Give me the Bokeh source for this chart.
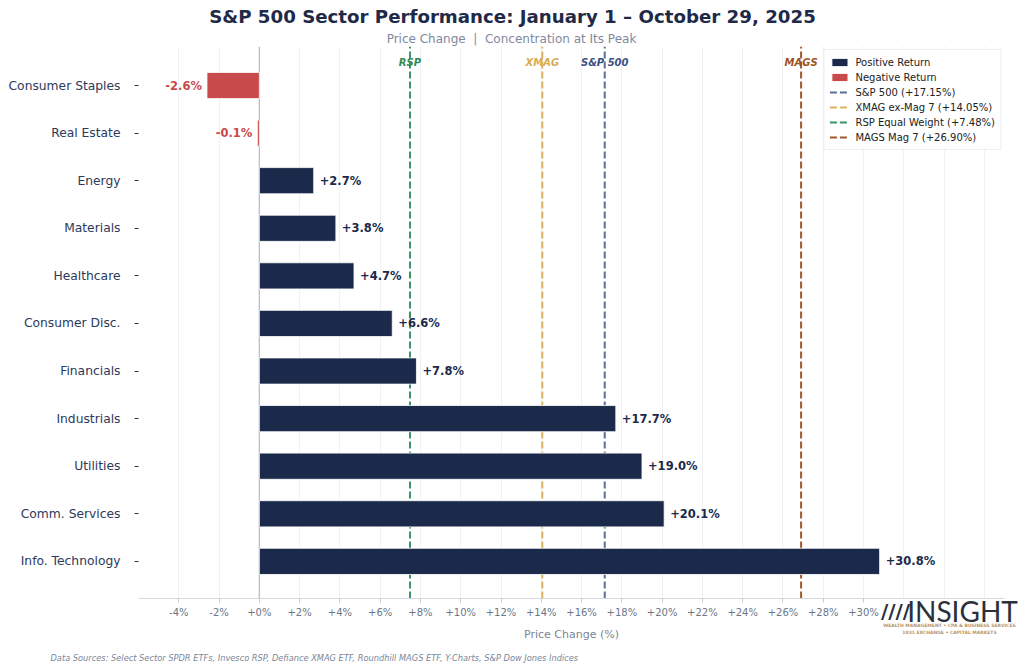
from bokeh.plotting import figure
from bokeh.models import ColumnDataSource, Label, Span, FixedTicker, Range1d
from bokeh.core.properties import value
from bokeh.embed import file_html
from bokeh.resources import INLINE

# ---------------- data ----------------
sectors = ["Consumer Staples", "Real Estate", "Energy", "Materials", "Healthcare",
           "Consumer Disc.", "Financials", "Industrials", "Utilities",
           "Comm. Services", "Info. Technology"]
returns = [-2.6, -0.1, 2.7, 3.8, 4.7, 6.6, 7.8, 17.7, 19.0, 20.1, 30.8]

bench_short = ["S&P 500", "XMAG", "RSP", "MAGS"]
bench_legend = ["S&P 500 (+17.15%)", "XMAG ex-Mag 7 (+14.05%)",
                "RSP Equal Weight (+7.48%)", "MAGS Mag 7 (+26.90%)"]
bench_values = [17.15, 14.05, 7.48, 26.90]

x_ticks = [-4, -2, 0, 2, 4, 6, 8, 10, 12, 14, 16, 18, 20, 22, 24, 26, 28, 30]
x_grid = [-4, -2, 0, 2, 4, 6, 8, 10, 12, 14, 16, 18, 20, 22, 24, 26, 28, 30, 32, 34, 36]

# ---------------- styles ----------------
NAVY = "#1b2a4a"
RED = "#c94a4a"
bench_line_colors = ["#5a6e98", "#ddb25e", "#3a9563", "#a4572c"]
bench_text_colors = ["#3c5182", "#d9ab52", "#2f8a58", "#9c5226"]
FONT = "DejaVu Sans"

XMIN, XMAX = -6.0, 37.0
YMIN, YMAX = -0.78, 10.82
FW, FH = 866, 552
FL, FT = 138, 46  # canvas coords of frame left/top


def X(px):
    return XMIN + (px - FL) * (XMAX - XMIN) / FW


def Y(py):
    return YMAX - (py - FT) * (YMAX - YMIN) / FH


n = len(sectors)
ypos = [n - 1 - i for i in range(n)]

pos = dict(y=[], x=[], lab=[])
neg = dict(y=[], x=[], lab=[])
for yy, v in zip(ypos, returns):
    d = pos if v >= 0 else neg
    d["y"].append(yy)
    d["x"].append(v)
    d["lab"].append(f"{v:+.1f}%")
src_pos = ColumnDataSource(pos)
src_neg = ColumnDataSource(neg)

p = figure(frame_width=FW, frame_height=FH,
           min_border_left=FL, min_border_right=18,
           min_border_top=FT, min_border_bottom=70,
           x_range=Range1d(XMIN, XMAX), y_range=Range1d(YMIN, YMAX),
           output_backend="svg", toolbar_location=None,
           background_fill_color="white", border_fill_color="white")
p.outline_line_color = None

# grid
p.ygrid.grid_line_color = None
p.xgrid.ticker = FixedTicker(ticks=x_grid)
p.xgrid.grid_line_color = "#ebedf0"
p.xgrid.grid_line_width = 0.8

# zero line
p.add_layout(Span(location=0, dimension="height", line_color="#b9bfc9",
                  line_width=1.3, level="underlay"))

# benchmark lines
for name, lab, v, c in zip(bench_short, bench_legend, bench_values, bench_line_colors):
    p.segment(x0=[v], y0=[YMIN], x1=[v], y1=[YMAX], line_color=c, line_width=2,
              line_dash="7 3", legend_label=lab)

# bars
p.hbar(y="y", right="x", left=0, height=0.55, source=src_pos,
       fill_color=NAVY, line_color="white", line_width=0.8,
       legend_label="Positive Return")
p.hbar(y="y", right="x", left=0, height=0.55, source=src_neg,
       fill_color=RED, line_color="white", line_width=0.8,
       legend_label="Negative Return")

# value labels
p.text(x="x", y="y", text="lab", source=src_pos, x_offset=6,
       text_align="left", text_baseline="middle", text_color=NAVY,
       text_font=value(FONT), text_font_style="bold", text_font_size="11.5px")
p.text(x="x", y="y", text="lab", source=src_neg, x_offset=-5,
       text_align="right", text_baseline="middle", text_color=RED,
       text_font=value(FONT), text_font_style="bold", text_font_size="11.5px")

# benchmark labels at top
bench_src = ColumnDataSource(dict(x=bench_values, y=[Y(62)] * len(bench_values),
                                  t=bench_short, c=bench_text_colors))
p.text(x="x", y="y", text="t", text_color="c", source=bench_src,
       text_align="center", text_baseline="middle",
       text_font=value(FONT), text_font_style="bold italic", text_font_size="10px")

# axes
p.yaxis.ticker = FixedTicker(ticks=ypos)
p.yaxis.major_label_overrides = {yy: s for yy, s in zip(ypos, sectors)}
p.yaxis.axis_line_color = None
p.yaxis.major_tick_line_color = "#333333"
p.yaxis.major_tick_out = 4
p.yaxis.major_tick_in = 0
p.yaxis.minor_tick_line_color = None
p.yaxis.major_label_standoff = 14
p.yaxis.major_label_text_font = FONT
p.yaxis.major_label_text_font_size = "12.3px"
p.yaxis.major_label_text_color = "#2d3a5a"

p.xaxis.ticker = FixedTicker(ticks=x_ticks)
p.xaxis.major_label_overrides = {t: (f"{t:+d}%" if t != 0 else "+0%") for t in x_ticks}
p.xaxis.axis_line_color = "#d5d9df"
p.xaxis.major_tick_line_color = "#c5cad2"
p.xaxis.major_tick_out = 4
p.xaxis.major_tick_in = 0
p.xaxis.minor_tick_line_color = None
p.xaxis.major_label_standoff = 4
p.xaxis.major_label_text_font = FONT
p.xaxis.major_label_text_font_size = "10px"
p.xaxis.major_label_text_color = "#6b7789"
p.xaxis.axis_label = "Price Change (%)"
p.xaxis.axis_label_standoff = 7
p.xaxis.axis_label_text_font = FONT
p.xaxis.axis_label_text_font_size = "11px"
p.xaxis.axis_label_text_font_style = "normal"
p.xaxis.axis_label_text_color = "#7a8599"

# legend
lg = p.legend[0]
order = ["Positive Return", "Negative Return"] + bench_legend
lg.items = sorted(lg.items, key=lambda it: order.index(it.label.value))
lg.location = "top_right"
lg.margin = 3
lg.padding = 5
lg.spacing = 1
lg.label_height = 14
lg.glyph_height = 10
lg.glyph_width = 20
lg.label_text_font = FONT
lg.label_text_font_size = "10px"
lg.label_text_color = "#222222"
lg.border_line_color = "#dddddd"
lg.background_fill_alpha = 0.9
lg.label_standoff = 6


# titles, footer and logo (labels placed in the side panels)
def lab(x, y, text, side="below", **kw):
    base = dict(text_font=FONT, text_baseline="middle")
    base.update(kw)
    lbl = Label(x=X(x), y=Y(y), text=text, **base)
    p.add_layout(lbl, side)
    return lbl


NB = "\u00a0"
lab(512, 16, "S&P 500 Sector Performance: January 1 – October 29, 2025", side="above",
    text_align="center", text_font_style="bold", text_font_size="18.2px", text_color="#1f2a48")
lab(511, 38, f"Price Change {NB}|{NB} Concentration at Its Peak", side="above",
    text_align="center", text_font_size="12px", text_color="#8089a0")

lab(50, 657, "Data Sources: Select Sector SPDR ETFs, Invesco RSP, Defiance XMAG ETF, "
    "Roundhill MAGS ETF, Y-Charts, S&P Dow Jones Indices",
    text_align="left", text_font_style="italic", text_font_size="8.25px", text_color="#7a8699")

# logo
lab(895, 610, "////", text_align="center", text_font_style="bold",
    text_font_size="20px", text_color="#2b303b")
lab(962, 610, "INSIGHT", text_align="center", text_font="Lato",
    text_font_size="28px", text_color="#2b303b")
lab(949, 625, "WEALTH MANAGEMENT • CPA & BUSINESS SERVICES", text_align="center",
    text_font_style="bold", text_font_size="4.5px", text_color="#b8956a")
lab(949, 632, "1031 EXCHANGE • CAPITAL MARKETS", text_align="center",
    text_font_style="bold", text_font_size="4.5px", text_color="#b8956a")

open("out.html", "w").write(file_html(p, INLINE))
